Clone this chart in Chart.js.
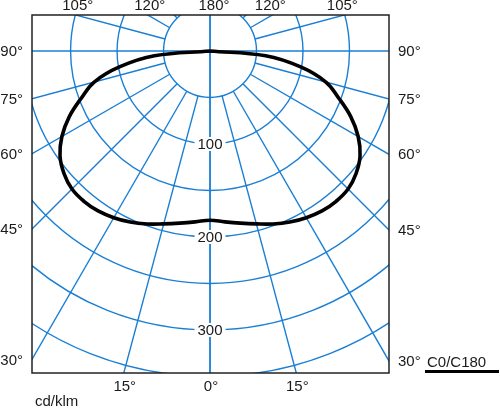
<!DOCTYPE html>
<html>
<head>
<meta charset="utf-8">
<script src="https://cdn.jsdelivr.net/npm/chart.js@4"></script>
<style>
  html, body { margin: 0; padding: 0; background: #ffffff; }
  canvas { display: block; }
</style>
</head>
<body>
<canvas id="c" width="500" height="409"></canvas>
<script>
// ---- data (cd/klm) ----
const angles = [0, 5, 10, 15, 20, 25, 30, 35, 40, 45, 50, 55, 60, 65, 70, 75, 80, 85, 90];
const c0     = [182, 184.5, 188, 192.5, 198, 203, 207, 210, 211, 210, 205, 197, 184, 167, 147, 129, 99, 60, 0];
const c180   = [182, 184.5, 188, 192.5, 198, 203, 207, 210, 211, 210, 205, 197, 184, 167, 147, 129, 99, 60, 0];

// ---- grid / tick definitions ----
const ringValues   = [50, 100, 150, 200, 250, 300, 350, 400];
const ringLabels   = [100, 200, 300];
const spokeAngles  = [0, 15, 30, 45, 60, 75, 90, 105, 120, 135, 150, 165, 180];
const sideTicks    = [90, 75, 60, 45, 30];
const topTicks     = [105, 120, 180];
const bottomTicks  = [15, 0];
const unitLabel    = 'cd/klm';
const legendLabel  = 'C0/C180';

const rad = d => d * Math.PI / 180;

// curve points: C180 on the left (90 down to 5), C0 on the right (0 up to 90); 0° shared once
const curve = [];
for (let i = angles.length - 1; i >= 1; i--) {
  const t = rad(angles[i]);
  curve.push({ x: -c180[i] * Math.sin(t), y: -c180[i] * Math.cos(t) });
}
for (let i = 0; i < angles.length; i++) {
  const t = rad(angles[i]);
  curve.push({ x: c0[i] * Math.sin(t), y: -c0[i] * Math.cos(t) });
}

const GRID = '#1a7fd4';
const TEXT = '#1a1a1a';
const FONT = '15px "Liberation Sans", Arial, sans-serif';

const gridPlugin = {
  id: 'polarGrid',
  beforeDatasetsDraw(chart) {
    const { ctx, chartArea: a, scales: { x, y } } = chart;
    const ox = x.getPixelForValue(0), oy = y.getPixelForValue(0);
    const kx = x.getPixelForValue(1) - ox;
    const ky = oy - y.getPixelForValue(1);
    ctx.save();
    ctx.beginPath();
    ctx.rect(a.left, a.top, a.right - a.left, a.bottom - a.top);
    ctx.clip();
    ctx.strokeStyle = GRID;
    ctx.lineWidth = 1.4;
    ringValues.forEach(r => {
      ctx.beginPath();
      ctx.ellipse(ox, oy, r * kx, r * ky, 0, 0, Math.PI * 2);
      ctx.stroke();
    });
    spokeAngles.forEach(d => {
      [1, -1].forEach(s => {
        const t = rad(d);
        const dx = s * Math.sin(t), dy = -Math.cos(t);
        const full = (d === 0 || d === 90 || d === 180);
        const r0 = full ? 0 : 50;
        const r1 = 1000;
        ctx.beginPath();
        ctx.moveTo(x.getPixelForValue(r0 * dx), y.getPixelForValue(r0 * dy));
        ctx.lineTo(x.getPixelForValue(r1 * dx), y.getPixelForValue(r1 * dy));
        ctx.stroke();
      });
    });
    ctx.font = FONT;
    ctx.textAlign = 'center';
    ctx.textBaseline = 'middle';
    ringLabels.forEach(v => {
      const py = y.getPixelForValue(-v);
      const w = ctx.measureText(String(v)).width;
      ctx.fillStyle = '#ffffff';
      ctx.fillRect(ox - w / 2 - 3, py - 7, w + 6, 14);
      ctx.fillStyle = TEXT;
      ctx.fillText(String(v), ox, py + 0.5);
    });
    ctx.restore();
  },
  afterDraw(chart) {
    const { ctx, chartArea: a, scales: { x, y } } = chart;
    const xmin = x.min, xmax = x.max, ymin = y.min, ymax = y.max;
    ctx.save();
    ctx.strokeStyle = '#222222';
    ctx.lineWidth = 1.5;
    ctx.strokeRect(a.left, a.top, a.right - a.left, a.bottom - a.top);

    ctx.font = FONT;
    ctx.fillStyle = TEXT;
    ctx.textBaseline = 'middle';
    sideTicks.forEach(d => {
      const t = rad(d);
      const pyl = y.getPixelForValue(d === 90 ? 0 : -Math.abs(xmin) / Math.tan(t));
      const pyr = y.getPixelForValue(d === 90 ? 0 : -Math.abs(xmax) / Math.tan(t));
      ctx.textAlign = 'right';
      ctx.fillText(d + '°', a.left - 9, pyl + 1);
      ctx.textAlign = 'left';
      ctx.fillText(d + '°', a.right + 9, pyr + 1);
    });
    ctx.textAlign = 'center';
    topTicks.forEach(d => {
      const t = rad(d);
      if (d === 180) {
        ctx.fillText(d + '°', x.getPixelForValue(0) + 4, a.top - 9);
        return;
      }
      const dy = -Math.cos(t), dx = Math.sin(t);
      const r = ymax / dy;
      const px = x.getPixelForValue(r * dx);
      const pxn = x.getPixelForValue(-r * dx);
      ctx.fillText(d + '°', pxn + 2, a.top - 9);
      ctx.fillText(d + '°', px - 2, a.top - 9);
    });
    bottomTicks.forEach(d => {
      const t = rad(d);
      const xx = Math.abs(ymin) * Math.tan(t);
      ctx.fillText(d + '°', x.getPixelForValue(-xx) + 1, a.bottom + 14);
      if (d !== 0) ctx.fillText(d + '°', x.getPixelForValue(xx) + 1, a.bottom + 14);
    });
    ctx.textAlign = 'left';
    ctx.textBaseline = 'alphabetic';
    ctx.fillText(unitLabel, a.left + 3, 406);
    ctx.fillText(legendLabel, 427, 367);
    ctx.fillStyle = '#000000';
    ctx.fillRect(425, 370, 74, 3);
    ctx.restore();
  }
};

new Chart(document.getElementById('c'), {
  type: 'scatter',
  data: {
    datasets: [{
      label: legendLabel,
      data: curve,
      showLine: true,
      borderColor: '#000000',
      borderWidth: 3.6,
      pointRadius: 0,
      tension: 0.4,
      fill: false
    }]
  },
  options: {
    responsive: false,
    animation: false,
    layout: { padding: { left: 32, top: 15, right: 111, bottom: 36 } },
    plugins: { legend: { display: false }, tooltip: { enabled: false } },
    scales: {
      x: { type: 'linear', min: -191.5, max: 192.5, display: false },
      y: { type: 'linear', min: -346.3, max: 38.7, display: false }
    }
  },
  plugins: [gridPlugin]
});
</script>
</body>
</html>
